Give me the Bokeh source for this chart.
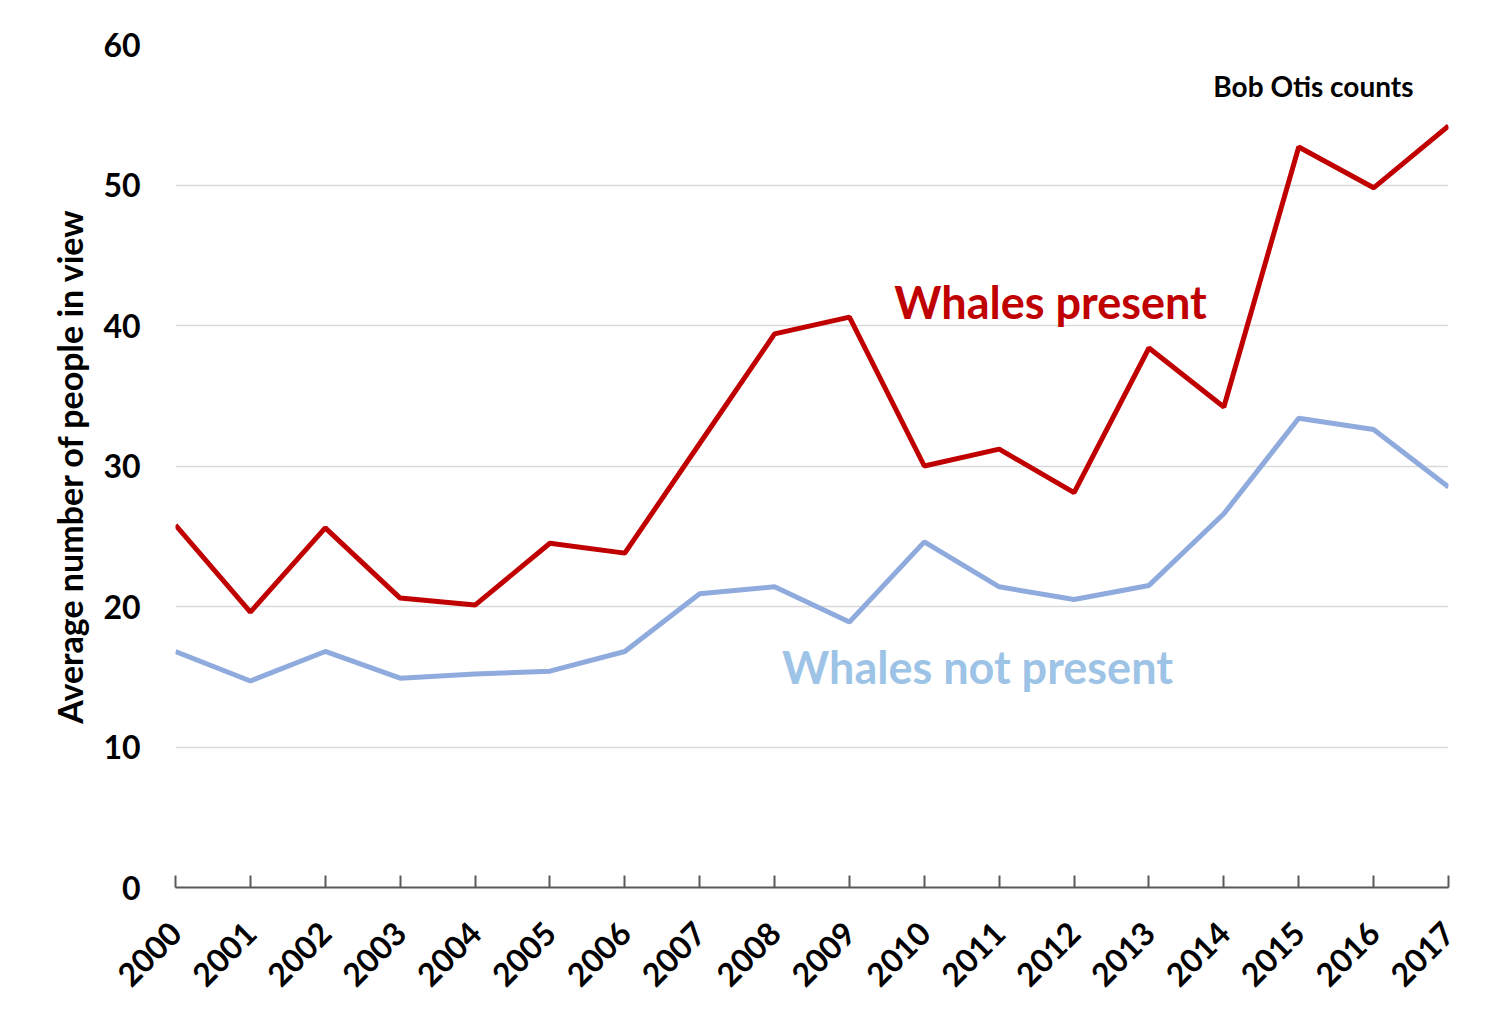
import math
from bokeh.plotting import figure
from bokeh.models import Range1d, FixedTicker, Label
from bokeh.embed import file_html
from bokeh.resources import INLINE

years = list(range(2000, 2018))
whales_present = [25.8, 19.6, 25.6, 20.6, 20.1, 24.5, 23.8, 31.6, 39.4, 40.6,
                  30.0, 31.2, 28.1, 38.4, 34.2, 52.7, 49.8, 54.2]
whales_not_present = [16.8, 14.7, 16.8, 14.9, 15.2, 15.4, 16.8, 20.9, 21.4, 18.9,
                      24.6, 21.4, 20.5, 21.5, 26.6, 33.4, 32.6, 28.5]
y_ticks = [0, 10, 20, 30, 40, 50, 60]

FONT = "Lato"
RED = "#C00000"
BLUE_LINE = "#8FAADC"
BLUE_TEXT = "#9DC3E6"

p = figure(width=1495, height=1003, output_backend="svg", toolbar_location=None,
           x_range=Range1d(2000, 2017), y_range=Range1d(0, 60),
           min_border_left=175, min_border_right=47, min_border_top=44,
           min_border_bottom=116)
p.outline_line_color = None
p.background_fill_color = "white"
p.border_fill_color = "white"

p.line(years, whales_present, line_color=RED, line_width=5)
p.line(years, whales_not_present, line_color=BLUE_LINE, line_width=5)

# x axis
xa = p.xaxis[0]
xa.ticker = FixedTicker(ticks=years)
xa.major_label_orientation = math.pi / 4
xa.major_label_text_font = FONT
xa.major_label_text_font_style = "bold"
xa.major_label_text_font_size = "32px"
xa.major_label_text_color = "black"
xa.major_label_standoff = 40
xa.axis_line_color = "#595959"
xa.axis_line_width = 2
xa.major_tick_line_color = "#595959"
xa.major_tick_line_width = 2
xa.major_tick_in = 12
xa.major_tick_out = 0
xa.minor_tick_line_color = None

# y axis
ya = p.yaxis[0]
ya.ticker = FixedTicker(ticks=y_ticks)
ya.axis_line_color = None
ya.major_tick_line_color = None
ya.minor_tick_line_color = None
ya.major_label_text_font = FONT
ya.major_label_text_font_style = "bold"
ya.major_label_text_font_size = "32px"
ya.major_label_text_color = "black"
ya.major_label_standoff = 29
ya.axis_label = "Average number of people in view"
ya.axis_label_text_font = FONT
ya.axis_label_text_font_style = "bold"
ya.axis_label_text_font_size = "34px"
ya.axis_label_text_color = "black"
ya.axis_label_standoff = 10

p.xgrid.grid_line_color = None
p.ygrid.ticker = FixedTicker(ticks=[10, 20, 30, 40, 50, 60])
p.ygrid.grid_line_color = "#D9D9D9"
p.ygrid.grid_line_width = 1.5

p.add_layout(Label(x=2009.6, y=41.7, text="Whales present", text_color=RED,
                   text_font=FONT, text_font_style="bold", text_font_size="45px",
                   text_baseline="alphabetic"))
p.add_layout(Label(x=2008.1, y=15.7, text="Whales not present", text_color=BLUE_TEXT,
                   text_font=FONT, text_font_style="bold", text_font_size="45px",
                   text_baseline="alphabetic"))
p.add_layout(Label(x=2013.86, y=57.05, text="Bob  Otis counts", text_color="black",
                   text_font=FONT, text_font_style="bold", text_font_size="28px",
                   text_baseline="alphabetic"))

open("out.html", "w").write(file_html(p, INLINE))
